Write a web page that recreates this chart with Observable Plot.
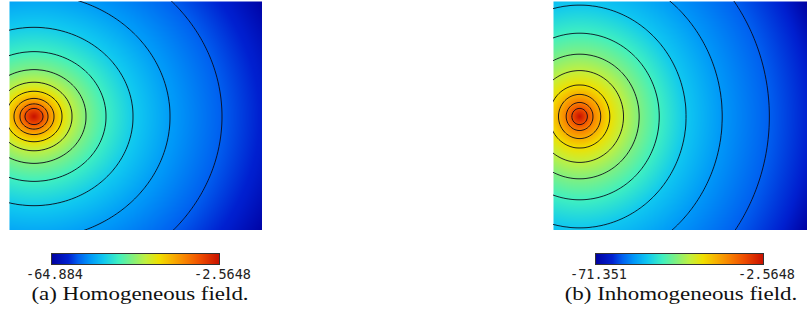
<!DOCTYPE html>
<html><head><meta charset="utf-8">
<script src="https://cdn.jsdelivr.net/npm/d3@7"></script>
<script src="https://cdn.jsdelivr.net/npm/@observablehq/plot@0.6"></script>
<style>
body{margin:0;background:#fff;}
#root{position:relative;width:808px;height:326px;overflow:hidden;background:#fff;}
.abs{position:absolute;}
.cap{position:absolute;font-family:"Liberation Serif","Times New Roman",serif;font-size:18.5px;line-height:19px;color:#111;white-space:nowrap;transform:translateX(-50%) scaleX(1.24);transform-origin:50% 50%;}
</style></head><body><div id="root"></div>
<script>
// ---------------- data ----------------
const captions = ["(a) Homogeneous field.", "(b) Inhomogeneous field."];
const colorMin = [-64.884, -71.351];
const colorMax = [-2.5648, -2.5648];
const colorLabels = [["-64.884", "-2.5648"], ["-71.351", "-2.5648"]];
const levelsA = [-10, -15, -20, -25, -30, -35, -40, -45, -50, -55];
const levelsB = [-10.8, -16.3, -21.8, -27.3, -32.8, -38.3, -43.8, -50.0, -55.5, -60.4];
// field domain (arbitrary units) and source location
const fieldX = [0, 253];
const fieldY = [0, 229];
const sourceA = [24.5, 114];
const sourceB = [26, 114];
// vertical / horizontal stretch of the iso-lines
const stretchA = 0.9;
const stretchB = 1.05;
// radial profile: distance from source -> field value
const radiiA  = [0, 9, 14, 20, 28, 38, 52, 72, 99, 136, 188, 229, 265];
const valuesA = [-2.5648, -10, -15, -20, -25, -30, -35, -40, -45, -50, -55, -59, -64.884];
const radiiB  = [0, 7.7, 13.3, 21, 30, 43.7, 59.3, 79.3, 106, 142, 189, 228, 252];
const valuesB = [-2.5648, -10.8, -16.3, -21.8, -27.3, -32.8, -38.3, -43.8, -50.0, -55.5, -60.4, -64.5, -71.351];
// jet-like colour map, as seen in the colour bar
const cmapStops  = [0, 0.1, 0.16, 0.23, 0.31, 0.40, 0.48, 0.56, 0.64, 0.72, 0.80, 0.88, 1];
const cmapColors = ["#0000a0", "#0020d0", "#0060f0", "#0098f8", "#10c8f0", "#40f0c0", "#80f080",
                    "#c0f040", "#f0e000", "#f8b000", "#f88000", "#f05000", "#c81000"];

// ---------------- drawing ----------------
const cmapScale = d3.scaleLinear().domain(cmapStops).range(cmapColors).interpolate(d3.interpolateRgb).clamp(true);
const cmap = t => cmapScale(t);
const root = document.getElementById("root");

function place(node, left, top) {
  node.classList.add("abs");
  node.style.left = left + "px";
  node.style.top = top + "px";
  root.appendChild(node);
}

function fieldFn(radii, values, src, stretch) {
  const prof = d3.scaleLinear().domain(radii).range(values).clamp(true);
  return (x, y) => {
    const dx = x - src[0], dy = (y - src[1]) / stretch;
    return prof(Math.hypot(dx, dy));
  };
}

function panel(i, radii, values, levels, src, stretch, geo) {
  const f = fieldFn(radii, values, src, stretch);
  const pad = 20;
  const heat = Plot.plot({
    width: geo.w, height: geo.h,
    margin: 0,
    x: {domain: fieldX, axis: null},
    y: {domain: fieldY, axis: null},
    color: {type: "linear", domain: [colorMin[i], colorMax[i]], interpolate: cmap, clamp: true},
    marks: [
      Plot.raster({fill: f, x1: fieldX[0], x2: fieldX[1], y1: fieldY[0], y2: fieldY[1], width: geo.w, height: geo.h}),
      Plot.contour({value: f, x1: fieldX[0] - pad, x2: fieldX[1] + pad, y1: fieldY[0] - pad, y2: fieldY[1] + pad,
        thresholds: levels, fill: "none", stroke: "#0a0a1a", strokeWidth: 0.9, pixelSize: 1, clip: true})
    ]
  });
  place(heat, geo.left, geo.top);

  const lo = colorMin[i], hi = colorMax[i];
  const bar = Plot.plot({
    width: geo.cbW, height: 11 + 20,
    marginLeft: geo.cbML, marginRight: geo.cbMR, marginTop: 0, marginBottom: 20,
    x: {domain: [lo, hi]},
    y: {domain: [0, 1], axis: null},
    color: {type: "linear", domain: [lo, hi], interpolate: cmap},
    style: {fontFamily: "'DejaVu Sans Mono', monospace", fontSize: "13.5px", color: "#222", background: "transparent"},
    marks: [
      Plot.raster({fill: (x, y) => x, x1: lo, x2: hi, y1: 0, y2: 1, width: geo.cbW - geo.cbML - geo.cbMR, height: 1}),
      Plot.frame({stroke: "#333", strokeWidth: 1}),
      Plot.axisX([lo, hi], {tickSize: 0, tickPadding: 5, dx: 3, tickFormat: d => d === lo ? colorLabels[i][0] : colorLabels[i][1], fill: "#222"})
    ]
  });
  place(bar, geo.cbLeft, 253);

  const cap = document.createElement("div");
  cap.className = "cap";
  cap.textContent = captions[i];
  cap.style.left = geo.capX + "px";
  cap.style.top = "285px";
  root.appendChild(cap);
}

panel(0, radiiA, valuesA, levelsA, sourceA, stretchA,
  {left: 9, top: 1, w: 253, h: 229, cbLeft: 0, cbW: 270, cbML: 51, cbMR: 51, capX: 140});
panel(1, radiiB, valuesB, levelsB, sourceB, stretchB,
  {left: 553, top: 1, w: 254, h: 229, cbLeft: 540, cbW: 268, cbML: 55, cbMR: 45, capX: 680.5});
</script>
</body></html>
